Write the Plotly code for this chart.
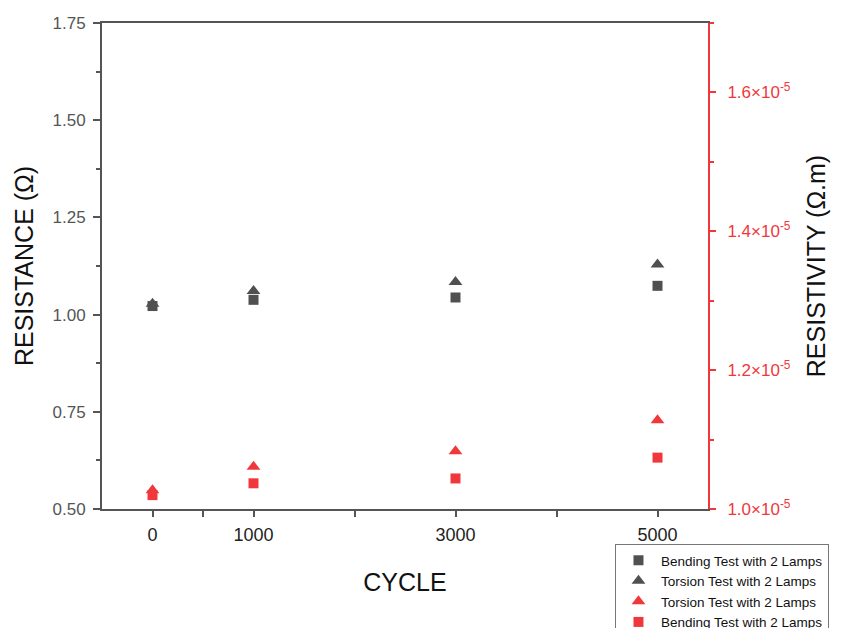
import plotly.graph_objects as go

cycles = [0, 1000, 3000, 5000]
res_bending = [1.022, 1.038, 1.044, 1.074]
res_torsion = [1.028, 1.061, 1.084, 1.129]
rho_torsion = [1.027e-5, 1.061e-5, 1.083e-5, 1.128e-5]
rho_bending = [1.020e-5, 1.037e-5, 1.044e-5, 1.074e-5]

x_tickvals = [0, 500, 1000, 2000, 3000, 4000, 5000]
x_ticktext = ["0", "", "1000", "", "3000", "", "5000"]
y_tickvals = [0.5, 0.75, 1.0, 1.25, 1.5, 1.75]
y_ticktext = ["0.50", "0.75", "1.00", "1.25", "1.50", "1.75"]
y2_tickvals = [1.0e-5, 1.2e-5, 1.4e-5, 1.6e-5]
y2_ticktext = ["1.0×10<sup>-5</sup>", "1.2×10<sup>-5</sup>", "1.4×10<sup>-5</sup>", "1.6×10<sup>-5</sup>"]

GRAY = "#505050"
RED = "#f0383c"
FONT = "Liberation Sans, Arial, sans-serif"

fig = go.Figure()
fig.add_trace(go.Scatter(x=cycles, y=res_bending, mode="markers", name="Bending Test with 2 Lamps",
                         marker=dict(symbol="square", size=10, color=GRAY)))
fig.add_trace(go.Scatter(x=cycles, y=res_torsion, mode="markers", name="Torsion Test with 2 Lamps",
                         marker=dict(symbol="triangle-up", size=12, color=GRAY)))
fig.add_trace(go.Scatter(x=cycles, y=rho_torsion, mode="markers", name="Torsion Test with 2 Lamps",
                         marker=dict(symbol="triangle-up", size=12, color=RED), yaxis="y2"))
fig.add_trace(go.Scatter(x=cycles, y=rho_bending, mode="markers", name="Bending Test with 2 Lamps",
                         marker=dict(symbol="square", size=10, color=RED), yaxis="y2"))

fig.update_layout(
    width=854, height=628,
    margin=dict(l=94, r=154, t=15, b=127, autoexpand=False),
    plot_bgcolor="white", paper_bgcolor="white",
    font=dict(family=FONT, color="#222"),
    xaxis=dict(range=[-500, 5500], tickmode="array", tickvals=x_tickvals, ticktext=x_ticktext,
               showgrid=False, zeroline=False, showline=True, linecolor="#555", linewidth=2,
               mirror=True, ticks="outside", ticklen=6, tickcolor="#555", tickwidth=1.5,
               ticklabelstandoff=2,
               tickfont=dict(size=18, color="#222"),
               title=dict(text="CYCLE", font=dict(size=25, color="#111"), standoff=30)),
    yaxis=dict(range=[0.5, 1.75], tickmode="array", tickvals=y_tickvals, ticktext=y_ticktext,
               showgrid=False, zeroline=False, showline=True, linecolor="#555", linewidth=2,
               ticks="outside", ticklen=7, tickcolor="#555", tickwidth=1.5,
               ticklabelstandoff=4,
               minor=dict(tickvals=[0.625, 0.875, 1.125, 1.375, 1.625], ticks="outside", ticklen=4, tickcolor="#555"),
               tickfont=dict(size=17, color="#555"),
               title=dict(text="RESISTANCE (Ω)", font=dict(size=25, color="#111"), standoff=12)),
    yaxis2=dict(overlaying="y", side="right", range=[1.0e-5, 1.7e-5], tickmode="array",
                tickvals=y2_tickvals, ticktext=y2_ticktext,
                showgrid=False, zeroline=False, showline=True, linecolor=RED, linewidth=2,
                ticks="outside", ticklen=6, tickcolor=RED, tickwidth=1.5,
                ticklabelstandoff=8,
                minor=dict(tickvals=[1.1e-5, 1.3e-5, 1.5e-5, 1.7e-5], ticks="outside", ticklen=4, tickcolor=RED),
                tickfont=dict(size=17, color=RED),
                title=dict(text="RESISTIVITY (Ω.m)", font=dict(size=25, color="#111"), standoff=18)),
    legend=dict(x=0.8465, y=-0.072, xanchor="left", yanchor="top",
                bgcolor="white", bordercolor="#777", borderwidth=1,
                font=dict(size=13.5, color="#111"), tracegroupgap=0, itemwidth=35),
    showlegend=True,
)

fig.write_html("out.html")
